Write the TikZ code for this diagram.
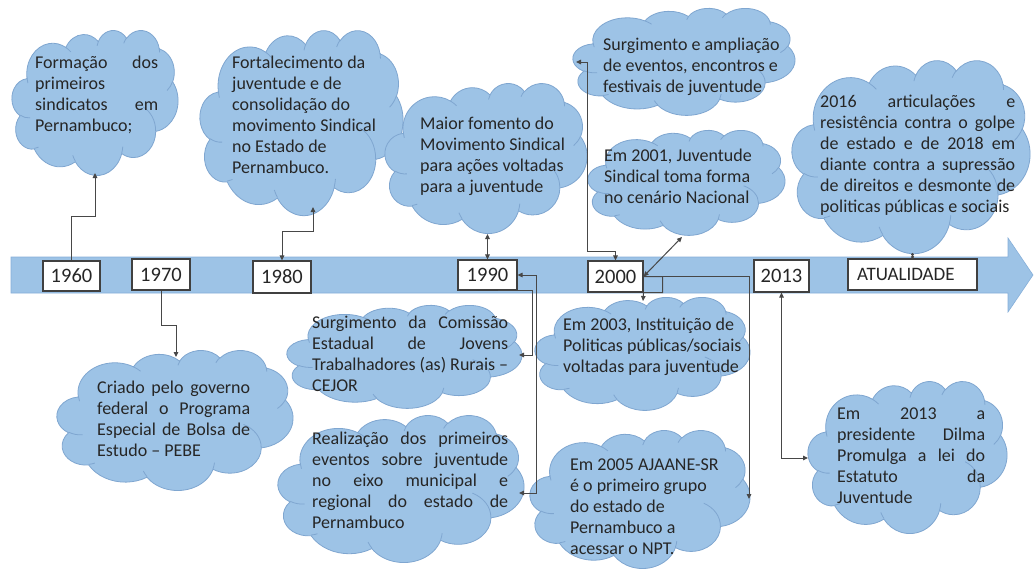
\documentclass[tikz,border=0pt]{standalone}
\usepackage{fontspec}
\setmainfont{Carlito}
\usetikzlibrary{arrows.meta,calc}
\definecolor{cloudfill}{HTML}{9DC3E6}
\definecolor{cloudedge}{HTML}{7FA6D0}
\definecolor{barfill}{HTML}{9DC3E6}
\definecolor{baredge}{HTML}{86AFD9}
\definecolor{conncol}{HTML}{474747}
\definecolor{txtcol}{HTML}{262626}
\newcommand{\jline}[2]{\makebox[#1][s]{#2}}
\newcommand{\wordcloud}[4]{%
\begin{scope}[shift={(#1,#2)},xscale=#3/100,yscale=#4/100]
\path[cloudbody] (9.028,33.264)
 arc[x radius=15.632,y radius=21.273,start angle={pa(15.632,21.273,-190.4875)},end angle={pa(15.632,21.273,-66.707)}]
 arc[x radius=12.345,y radius=16.822,start angle={pa(12.345,16.822,-144.1024)},end angle={pa(12.345,16.822,-54.1572)}]
 arc[x radius=10.104,y radius=13.762,start angle={pa(10.104,13.762,-145.8079)},end angle={pa(10.104,13.762,-46.0849)}]
 arc[x radius=11.243,y radius=15.266,start angle={pa(11.243,15.266,-130.9861)},end angle={pa(11.243,15.266,-13.7444)}]
 arc[x radius=12.345,y radius=16.836,start angle={pa(12.345,16.836,-78.7089)},end angle={pa(12.345,16.836,30.318)}]
 arc[x radius=15.683,y radius=21.343,start angle={pa(15.683,21.343,-46.2673)},end angle={pa(15.683,21.343,84.0017)}]
 arc[x radius=13.391,y radius=18.211,start angle={pa(13.391,18.211,0.625)},end angle={pa(13.391,18.211,114.6583)}]
 arc[x radius=15.630,y radius=21.331,start angle={pa(15.630,21.331,22.4516)},end angle={pa(15.630,21.331,137.6242)}]
 arc[x radius=17.870,y radius=24.405,start angle={pa(17.870,24.405,66.2426)},end angle={pa(17.870,24.405,141.9536)}]
 arc[x radius=10.093,y radius=13.699,start angle={pa(10.093,13.699,-274.9421)},end angle={pa(10.093,13.699,-128.2065)}]
 arc[x radius=10.058,y radius=13.762,start angle={pa(10.058,13.762,-246.8285)},end angle={pa(10.058,13.762,-94.3096)}]
 -- cycle;
\path[cloudinner]
 (10.863,60.595) arc[x radius=10.058,y radius=13.762,start angle={pa(10.058,13.762,86.742)},end angle={pa(10.058,13.762,113.1715)}]
 (16.037,80.785) arc[x radius=10.093,y radius=13.699,start angle={pa(10.093,13.699,73.6105)},end angle={pa(10.093,13.699,85.058)}]
 (38.144,90.486) arc[x radius=15.630,y radius=21.331,start angle={pa(15.630,21.331,137.6242)},end angle={pa(15.630,21.331,151.7053)}]
 (66.729,80.442) arc[x radius=15.630,y radius=21.331,start angle={pa(15.630,21.331,6.4533)},end angle={pa(15.630,21.331,22.4516)}]
 (79.002,53.134) arc[x radius=13.391,y radius=18.211,start angle={pa(13.391,18.211,-70.2924)},end angle={pa(13.391,18.211,0.625)}]
 (96.755,35.542) arc[x radius=12.345,y radius=16.836,start angle={pa(12.345,16.836,30.318)},end angle={pa(12.345,16.836,58.0695)}]
 (88.713,12.560) arc[x radius=11.243,y radius=15.266,start angle={pa(11.243,15.266,-13.7443)},end angle={pa(11.243,15.266,1.1146)}]
 (67.310,9.148) arc[x radius=11.243,y radius=15.266,start angle={pa(11.243,15.266,-149.1815)},end angle={pa(11.243,15.266,-130.9861)}]
 (51.252,10.926) arc[x radius=10.104,y radius=13.762,start angle={pa(10.104,13.762,-163.4943)},end angle={pa(10.104,13.762,-145.8079)}]
 (32.407,12.019) arc[x radius=15.632,y radius=21.273,start angle={pa(15.632,21.273,-66.707)},end angle={pa(15.632,21.273,-54.3876)}]
 (9.553,36.549) arc[x radius=15.632,y radius=21.273,start angle={pa(15.632,21.273,158.7972)},end angle={pa(15.632,21.273,172.3796)}];
\end{scope}}
\begin{document}
\begin{tikzpicture}[x=1pt,y=-1pt,
  declare function={pa(\ra,\rb,\an)=\an+Mod(atan2(\ra*sin(\an),\rb*cos(\an))-\an+180,360)-180;},
  cloudbody/.style={fill=cloudfill,draw=cloudedge,line width=0.8pt},
  cloudinner/.style={draw=cloudedge,line width=0.8pt},
  bar/.style={fill=barfill,draw=baredge,line width=0.6pt},
  yearbox/.style={draw=black!75,fill=white,line width=1.1pt,inner sep=0pt,text=txtcol,
    font=\fontsize{20.5}{24}\selectfont},
  ctext/.style={anchor=north west,inner sep=0pt,align=left,text=txtcol,
    font=\fontsize{18}{21}\selectfont},
  conn/.style={draw=conncol,line width=1pt},
  tip/.tip={Triangle[length=5pt,width=4.5pt]}]
\fill[white] (0,0) rectangle (1034,571);
\useasboundingbox (0,0) rectangle (1034,571);
% timeline bar
\path[bar] (11,257) -- (1008,257) -- (1008,238) -- (1033,275) -- (1008,312) -- (1008,293) -- (11,293) -- cycle;
% clouds
\wordcloud{12}{30}{166}{145}
\wordcloud{200}{30}{203}{185}
\wordcloud{385}{83}{202}{150}
\wordcloud{573}{8}{222}{107}
\wordcloud{588}{130}{197}{105}
\wordcloud{792}{60}{238}{193}
\wordcloud{57}{350}{236}{140}
\wordcloud{287}{305}{235}{103}
\wordcloud{278}{415}{246}{147}
\wordcloud{535}{297}{215}{113}
\wordcloud{530}{430}{220}{138}
\wordcloud{808}{381}{199}{152}
% cloud texts
\node[ctext] (t1) at (35,53.8) {\strut\jline{123pt}{Formação dos}\\primeiros\\\jline{123pt}{sindicatos em}\\Pernambuco;};
\node[ctext] (t2) at (232,53.8) {\strut Fortalecimento da\\juventude e de\\consolidação do\\movimento Sindical\\no Estado de\\Pernambuco.};
\node[ctext] (t3) at (420,114.8) {\strut Maior fomento do\\Movimento Sindical\\para ações voltadas\\para a juventude};
\node[ctext] (t4) at (603,35.8) {\strut Surgimento e ampliação\\de eventos, encontros e\\festivais de juventude};
\node[ctext] (t5) at (604,146.8) {\strut Em 2001, Juventude\\Sindical toma forma\\no cenário Nacional};
\node[ctext] (t6) at (820,92.8) {\strut\jline{195pt}{2016 articulações e}\\\jline{195pt}{resistência contra o golpe}\\\jline{195pt}{de estado e de 2018 em}\\\jline{195pt}{diante contra a supressão}\\\jline{195pt}{de direitos e desmonte de}\\politicas públicas e sociais};
\node[ctext] (t7) at (97,378.8) {\strut\jline{153pt}{Criado pelo governo}\\\jline{153pt}{federal o Programa}\\\jline{153pt}{Especial de Bolsa de}\\Estudo – PEBE};
\node[ctext] (t8) at (312,313.8) {\strut\jline{196pt}{Surgimento da Comissão}\\\jline{196pt}{Estadual de Jovens}\\\jline{196pt}{Trabalhadores (as) Rurais –}\\CEJOR};
\node[ctext] (t9) at (312,429.8) {\strut\jline{196pt}{Realização dos primeiros}\\\jline{196pt}{eventos sobre juventude}\\\jline{196pt}{no eixo municipal e}\\\jline{196pt}{regional do estado de}\\Pernambuco};
\node[ctext] (t10) at (563,315.8) {\strut Em 2003, Instituição de\\Politicas públicas/sociais\\voltadas para juventude};
\node[ctext] (t11) at (570,455.8) {\strut Em 2005 AJAANE-SR\\é o primeiro grupo\\do estado de\\Pernambuco a\\acessar o NPT.};
\node[ctext] (t12) at (837,404.8) {\strut\jline{148pt}{Em 2013 a}\\\jline{148pt}{presidente Dilma}\\\jline{148pt}{Promulga a lei do}\\\jline{148pt}{Estatuto da}\\Juventude};
% year boxes
\node[yearbox,minimum width=57pt,minimum height=30pt] (b1960) at (71.5,276) {1960};
\node[yearbox,minimum width=58pt,minimum height=31pt] (b1970) at (161,274.5) {1970};
\node[yearbox,minimum width=58pt,minimum height=32pt] (b1980) at (282,277) {1980};
\node[yearbox,minimum width=59pt,minimum height=30pt] (b1990) at (487.5,275) {1990};
\node[yearbox,minimum width=55pt,minimum height=31pt] (b2000) at (615.5,276.5) {2000};
\node[yearbox,minimum width=55pt,minimum height=32pt] (b2013) at (781.5,276) {2013};
\node[yearbox,minimum height=31pt,inner xsep=9pt,text width=111pt,align=left,font=\fontsize{19}{22}\selectfont] (bATU) at (912.5,274.5) {ATUALIDADE};
% attachment points on the clouds
\coordinate (c1b) at (95,173);
\coordinate (c2b) at (313,207);
\coordinate (c3b) at (487.5,234);
\coordinate (c4l) at (576,62);
\coordinate (c5b) at (682,237);
\coordinate (c6b) at (912.5,253);
\coordinate (c7t) at (176,357);
\coordinate (c8r) at (519,355);
\coordinate (c9r) at (519,493);
\coordinate (c10t) at (643,301);
\coordinate (c11r) at (749,499);
\coordinate (c12l) at (808,458);
% connectors
\draw[conn,-tip] (b1960.north) -- ++(0,-44) -| (c1b);
\draw[conn,tip-tip] (b1980.north) -- ++(0,-29) -| (c2b);
\draw[conn,-tip] (b1970.south) -- ++(0,35) -| (c7t);
\draw[conn,tip-tip] (b1990.north) -- (c3b);
\draw[conn,-tip] ($(b1990.south)+(10,0)$) -| ($(c8r)+(13,0)$) -- (c8r);
\draw[conn,tip-tip] (b1990.east) -- ++(19,0) |- (c9r);
\draw[conn,tip-tip] (b2000.north) -- ++(0,-9) -| ($(c4l)+(11,0)$) -- (c4l);
\draw[conn,tip-tip] (b2000.east) -- (c5b);
\draw[conn,-tip] (b2000.east) -- ++(19,0) |- (b2000.south east) -- (c10t);
\draw[conn,-tip] (b2000.east) -| (c11r);
\draw[conn,tip-tip] (b2013.south) |- (c12l);
\draw[conn,{Circle[length=3pt]}-{Circle[length=3pt]}] (c6b) -- (bATU.north);
\end{tikzpicture}
\end{document}
